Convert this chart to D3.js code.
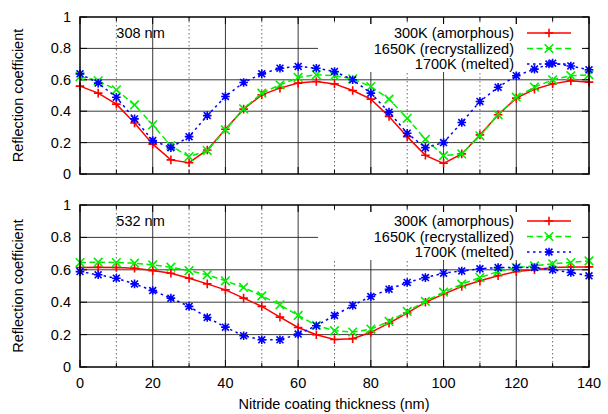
<!DOCTYPE html>
<html lang="en">
<head>
<meta charset="UTF-8">
<title>Reflection coefficient</title>
<script src="https://d3js.org/d3.v7.min.js"></script>
<style>
  body { margin: 0; background: #fff; }
  text { font-family: "Liberation Sans", Arial, sans-serif; font-size: 14.5px; fill: #000; }
</style>
</head>
<body>
<svg id="chart" width="608" height="414"></svg>
<script>
// coating thickness (nm)
var thickness = [0,5,10,15,20,25,30,35,40,45,50,55,60,65,70,75,80,85,90,95,100,105,110,115,120,125,130,135,140];

// 308 nm
var r308_300K  = [0.56,0.515,0.445,0.325,0.19,0.09,0.072,0.153,0.285,0.413,0.504,0.547,0.579,0.589,0.574,0.532,0.477,0.366,0.238,0.119,0.068,0.128,0.249,0.377,0.483,0.54,0.574,0.594,0.585];
var r308_1650K = [0.62,0.594,0.536,0.44,0.313,0.18,0.11,0.149,0.281,0.415,0.515,0.568,0.615,0.632,0.626,0.606,0.557,0.477,0.355,0.221,0.117,0.128,0.243,0.377,0.489,0.553,0.6,0.626,0.632];
var r308_1700K = [0.638,0.579,0.489,0.351,0.213,0.168,0.238,0.372,0.494,0.583,0.638,0.674,0.685,0.674,0.653,0.6,0.515,0.394,0.26,0.168,0.2,0.328,0.462,0.553,0.626,0.668,0.706,0.688,0.664];

// 532 nm
var r532_300K  = [0.614,0.616,0.614,0.61,0.595,0.579,0.548,0.513,0.476,0.425,0.374,0.308,0.244,0.199,0.17,0.175,0.214,0.271,0.333,0.4,0.45,0.497,0.532,0.563,0.589,0.6,0.614,0.618,0.618];
var r532_1650K = [0.645,0.647,0.645,0.641,0.63,0.616,0.595,0.569,0.532,0.491,0.439,0.384,0.318,0.257,0.224,0.216,0.234,0.281,0.343,0.405,0.462,0.511,0.552,0.589,0.614,0.624,0.637,0.645,0.655];
var r532_1700K = [0.589,0.569,0.548,0.513,0.472,0.425,0.374,0.306,0.246,0.193,0.168,0.168,0.203,0.255,0.318,0.38,0.435,0.48,0.522,0.552,0.579,0.593,0.606,0.614,0.614,0.614,0.6,0.583,0.563];

var seriesNames = ["300K (amorphous)", "1650K (recrystallized)", "1700K (melted)"];
var panelLabels = ["308 nm", "532 nm"];
var xTicks = [0,20,40,60,80,100,120,140];
var yTicks = [0,0.2,0.4,0.6,0.8,1];

var styles = [
    {color: "#ff0000", dash: null,      marker: "plus"},
    {color: "#00ee00", dash: "6,3.5",   marker: "cross"},
    {color: "#0000ff", dash: "2.5,3.5", marker: "star"}
];

var svg = d3.select("#chart");

var x = d3.scaleLinear().domain([0, 140]).range([80, 589]);

var panels = [
    {label: panelLabels[0], top: 17,  bottom: 174, series: [r308_300K, r308_1650K, r308_1700K]},
    {label: panelLabels[1], top: 205, bottom: 367, series: [r532_300K, r532_1650K, r532_1700K]}
];

function markerPath(type, s) {
    if (type == "plus") return "M" + (-s) + ",0H" + s + "M0," + (-s) + "V" + s;
    if (type == "cross") return "M" + (-s) + "," + (-s) + "L" + s + "," + s + "M" + (-s) + "," + s + "L" + s + "," + (-s);
    var d = s * 0.8;
    return "M" + (-s) + ",0H" + s + "M0," + (-s) + "V" + s +
        "M" + (-d) + "," + (-d) + "L" + d + "," + d + "M" + (-d) + "," + d + "L" + d + "," + (-d);
}

panels.forEach(function(p, pi) {
    var y = d3.scaleLinear().domain([0, 1]).range([p.bottom, p.top]);
    var g = svg.append("g");

    // grid
    g.selectAll(".hgrid").data(yTicks.slice(1, -1)).enter().append("line")
        .attr("x1", x(0)).attr("x2", x(140))
        .attr("y1", function(d) { return y(d); }).attr("y2", function(d) { return y(d); })
        .attr("stroke", "#222").attr("stroke-width", 0.9);
    g.selectAll(".vgrid").data(xTicks.slice(1, -1)).enter().append("line")
        .attr("x1", function(d) { return x(d); }).attr("x2", function(d) { return x(d); })
        .attr("y1", p.top).attr("y2", p.bottom)
        .attr("stroke", "#222").attr("stroke-width", 0.9);
    g.selectAll(".mgrid").data([10,30,50,70,90,110,130]).enter().append("line")
        .attr("x1", function(d) { return x(d); }).attr("x2", function(d) { return x(d); })
        .attr("y1", p.top).attr("y2", p.bottom)
        .attr("stroke", "#444").attr("stroke-width", 0.8).attr("stroke-dasharray", "1.5,2.5");

    // legend background
    var ly = p.top + 16;
    g.append("rect")
        .attr("x", 318).attr("y", ly - 9)
        .attr("width", 268).attr("height", 48)
        .attr("fill", "#fff");

    // ticks on border
    yTicks.forEach(function(t) {
        g.append("line").attr("x1", x(0)).attr("x2", x(0) + 7).attr("y1", y(t)).attr("y2", y(t)).attr("stroke", "#000");
        g.append("line").attr("x1", x(140)).attr("x2", x(140) - 7).attr("y1", y(t)).attr("y2", y(t)).attr("stroke", "#000");
    });
    d3.range(0, 141, 10).forEach(function(t) {
        var len = t % 20 == 0 ? 7 : 4;
        g.append("line").attr("x1", x(t)).attr("x2", x(t)).attr("y1", p.bottom).attr("y2", p.bottom - len).attr("stroke", "#000");
        g.append("line").attr("x1", x(t)).attr("x2", x(t)).attr("y1", p.top).attr("y2", p.top + len).attr("stroke", "#000");
    });

    // y labels
    g.selectAll(".ylab").data(yTicks).enter().append("text")
        .attr("x", 71).attr("y", function(d) { return y(d); })
        .attr("dy", "0.35em").attr("text-anchor", "end")
        .text(function(d) { return d3.format("")(d); });

    g.append("text")
        .attr("transform", "translate(23," + ((p.top + p.bottom) / 2) + ") rotate(-90)")
        .attr("text-anchor", "middle")
        .text("Reflection coefficient");

    g.append("text").attr("x", x(10)).attr("y", p.top + 21).text(p.label);

    // series
    var line = d3.line().x(function(d, i) { return x(thickness[i]); }).y(function(d) { return y(d); });
    p.series.forEach(function(vals, si) {
        var st = styles[si];
        g.append("path").datum(vals)
            .attr("d", line)
            .attr("fill", "none").attr("stroke", st.color).attr("stroke-width", 1.5)
            .attr("stroke-dasharray", st.dash);
        g.selectAll(".m" + si).data(vals).enter().append("path")
            .attr("transform", function(d, i) { return "translate(" + x(thickness[i]) + "," + y(d) + ")"; })
            .attr("d", markerPath(st.marker, 4.3))
            .attr("fill", "none").attr("stroke", st.color).attr("stroke-width", 1.6);
    });

    // legend
    seriesNames.forEach(function(name, si) {
        var st = styles[si];
        var yy = ly + si * 15.5;
        g.append("text").attr("x", 514).attr("y", yy).attr("dy", "0.35em")
            .attr("text-anchor", "end").text(name);
        g.append("line").attr("x1", 527).attr("x2", 571).attr("y1", yy).attr("y2", yy)
            .attr("stroke", st.color).attr("stroke-width", 1.5).attr("stroke-dasharray", st.dash);
        g.append("path").attr("transform", "translate(549," + yy + ")")
            .attr("d", markerPath(st.marker, 4.3))
            .attr("fill", "none").attr("stroke", st.color).attr("stroke-width", 1.6);
    });

    // border
    g.append("rect")
        .attr("x", x(0)).attr("y", p.top)
        .attr("width", x(140) - x(0)).attr("height", p.bottom - p.top)
        .attr("fill", "none").attr("stroke", "#000").attr("stroke-width", 1.5);
});

// x axis labels (bottom panel only)
svg.selectAll(".xlab").data(xTicks).enter().append("text")
    .attr("x", function(d) { return x(d); }).attr("y", 388)
    .attr("text-anchor", "middle")
    .text(function(d) { return d; });

svg.append("text").attr("x", 334).attr("y", 409).attr("text-anchor", "middle")
    .text("Nitride coating thickness (nm)");
</script>
</body>
</html>
